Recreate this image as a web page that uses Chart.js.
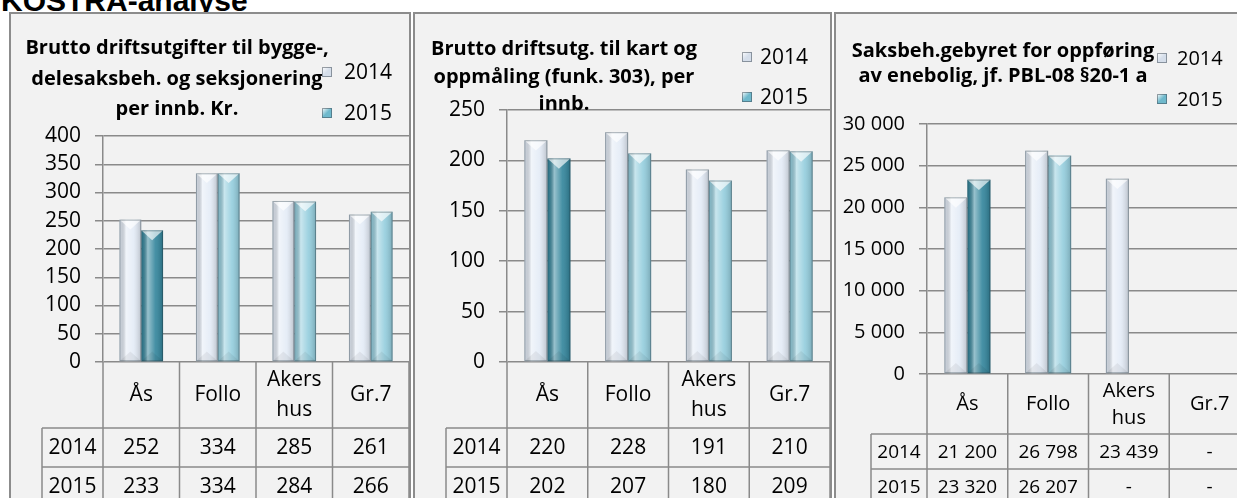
<!DOCTYPE html>
<html>
<head>
<meta charset="utf-8">
<script src="https://cdn.jsdelivr.net/npm/chart.js@4.4.1/dist/chart.umd.min.js"></script>
<style>
  html, body { margin: 0; padding: 0; background: #fff; overflow: hidden; width: 1237px; height: 498px; }
  .box { position: absolute; top: 12px; height: 560px; border: 2px solid #8c8c8c; background: #f2f2f2; box-sizing: border-box; }
  canvas { position: absolute; top: 13px; }
  #head { position: absolute; left: 1px; top: -14px; font: bold 30px 'Liberation Sans', Arial, sans-serif; line-height: 30px; white-space: nowrap; }
</style>
</head>
<body>
<div id="head">KOSTRA-analyse</div>
<div class="box" style="left:9px;width:402px"></div>
<div class="box" style="left:413px;width:419px"></div>
<div class="box" style="left:834px;width:500px"></div>
<canvas id="c1" width="400" height="500" style="left:10px"></canvas>
<canvas id="c2" width="418" height="500" style="left:414px"></canvas>
<canvas id="c3" width="420" height="500" style="left:835px"></canvas>
<script>
// data
const categories = ['Ås', 'Follo', ['Akers', 'hus'], 'Gr.7'];
const years = ['2014', '2015'];

const title1 = ['Brutto driftsutgifter til bygge-,', 'delesaksbeh. og seksjonering', 'per innb. Kr.'];
const bygg2014 = [252, 334, 285, 261];
const bygg2015 = [233, 334, 284, 266];
const byggTicks = [0, 50, 100, 150, 200, 250, 300, 350, 400];

const title2 = ['Brutto driftsutg. til kart og', 'oppmåling (funk. 303), per', 'innb.'];
const kart2014 = [220, 228, 191, 210];
const kart2015 = [202, 207, 180, 209];
const kartTicks = [0, 50, 100, 150, 200, 250];

const title3 = ['Saksbeh.gebyret for oppføring', 'av enebolig, jf. PBL-08 §20-1 a'];
const gebyr2014 = [21200, 26798, 23439, null];
const gebyr2015 = [23320, 26207, null, null];
const gebyrTicks = [0, 5000, 10000, 15000, 20000, 25000, 30000];

const LINE = '#8a8a8a';
const C2014 = '#e3ebf6';
const C2015 = '#93cddd';
const C2015_AS = '#31849b'; // Ås is highlighted in the 2015 series

Chart.defaults.font.family = "'Open Sans', sans-serif";
Chart.defaults.color = '#000';

function fmt(v) {
    if (v == null) return '-';
    return String(v).replace(/\B(?=(\d{3})+(?!\d))/g, ' ');
}

// 3D-ish bevel on top of the flat bars
const bevel = {
    id: 'bevel',
    afterDatasetsDraw(chart) {
        const ctx = chart.ctx;
        chart.data.datasets.forEach((ds, di) => {
            chart.getDatasetMeta(di).data.forEach((bar, i) => {
                if (ds.data[i] == null) return;
                const {x, y, base, width} = bar.getProps(['x', 'y', 'base', 'width'], true);
                const l = x - width / 2, r = x + width / 2;
                const g = ctx.createLinearGradient(l, 0, r, 0);
                g.addColorStop(0, 'rgba(0,0,0,0.06)');
                g.addColorStop(0.3, 'rgba(255,255,255,0.5)');
                g.addColorStop(0.65, 'rgba(255,255,255,0.1)');
                g.addColorStop(1, 'rgba(0,0,0,0.18)');
                ctx.save();
                ctx.fillStyle = g;
                ctx.fillRect(l, y, width, base - y);
                const d = width * 0.45;
                ctx.beginPath();
                ctx.moveTo(l, y); ctx.lineTo(r, y); ctx.lineTo(x, y + d); ctx.closePath();
                ctx.fillStyle = 'rgba(255,255,255,0.65)';
                ctx.fill();
                ctx.beginPath();
                ctx.moveTo(l, base); ctx.lineTo(r, base); ctx.lineTo(x, base - d); ctx.closePath();
                ctx.fillStyle = 'rgba(0,0,0,0.06)';
                ctx.fill();
                ctx.strokeStyle = 'rgba(40,60,70,0.4)';
                ctx.lineWidth = 1;
                ctx.strokeRect(l + 0.5, y + 0.5, width - 1, base - y - 1);
                ctx.restore();
            });
        });
    }
};

// title, legend and the data table under the plot
const kostra = {
    id: 'kostra',
    afterDraw(chart, args, o) {
        const {ctx, chartArea: a, scales: {x}} = chart;
        ctx.save();
        ctx.fillStyle = '#000';
        ctx.textAlign = 'center';
        ctx.textBaseline = 'alphabetic';
        ctx.font = `bold ${o.titleSize}px 'Open Sans'`;
        o.title.forEach((t, i) => ctx.fillText(t, o.titleX, o.titleY + i * o.titleGap));

        // legend
        ctx.textAlign = 'left';
        ctx.textBaseline = 'middle';
        ctx.font = `${o.legendSize}px 'Open Sans'`;
        chart.data.datasets.forEach((ds, i) => {
            const cy = o.legendY[i];
            const bx = o.legendX, by = cy - 5;
            const g = ctx.createLinearGradient(bx, by, bx + 10, by + 10);
            g.addColorStop(0, '#fff');
            g.addColorStop(0.5, ds.legendColor);
            g.addColorStop(1, ds.legendColor);
            ctx.fillStyle = g;
            ctx.fillRect(bx, by, 10, 10);
            ctx.strokeStyle = 'rgba(60,70,80,0.5)';
            ctx.lineWidth = 1;
            ctx.strokeRect(bx + 0.5, by + 0.5, 9, 9);
            ctx.fillStyle = '#000';
            ctx.fillText(ds.label, bx + 10 + o.legendGap, cy + 1);
        });

        // table grid
        const n = chart.data.labels.length;
        const cw = a.width / n;
        const y1 = a.bottom + o.catH;
        const rows = chart.data.datasets.length;
        ctx.strokeStyle = LINE;
        ctx.lineWidth = 1.5;
        ctx.beginPath();
        for (let i = 0; i <= n; i++) {
            const px = a.left + i * cw;
            ctx.moveTo(px, a.bottom);
            ctx.lineTo(px, chart.height);
        }
        ctx.moveTo(o.rowLeft, y1);
        ctx.lineTo(o.rowLeft, chart.height);
        for (let r = 0; r <= rows; r++) {
            const ry = y1 + r * o.rowH;
            ctx.moveTo(o.rowLeft, ry);
            ctx.lineTo(a.right, ry);
        }
        ctx.stroke();

        ctx.font = `${o.tableSize}px 'Open Sans'`;
        ctx.textAlign = 'center';
        ctx.textBaseline = 'middle';
        ctx.fillStyle = '#000';
        chart.data.datasets.forEach((ds, r) => {
            const cy = y1 + r * o.rowH + o.rowH / 2 + 1;
            ctx.fillText(ds.label, (o.rowLeft + a.left) / 2, cy);
            ds.data.forEach((v, i) => ctx.fillText(fmt(v), x.getPixelForValue(i), cy));
        });
        ctx.restore();
    }
};

function makeChart(id, s) {
    const ticks = s.ticks;
    const canvas = document.getElementById(id);
    return new Chart(canvas, {
        type: 'bar',
        data: {
            labels: categories,
            datasets: [{
                label: years[0],
                data: s.v2014,
                backgroundColor: C2014,
                legendColor: '#d5deea',
                borderWidth: 0,
                categoryPercentage: 0.57,
                barPercentage: 1.0
            }, {
                label: years[1],
                data: s.v2015,
                backgroundColor: s.v2015.map((v, i) => i === 0 ? C2015_AS : C2015),
                legendColor: '#6fb9cc',
                borderWidth: 0,
                categoryPercentage: 0.57,
                barPercentage: 1.0
            }]
        },
        options: {
            responsive: false,
            animation: false,
            layout: { padding: { top: s.top, right: s.right, left: 0, bottom: 0 } },
            scales: {
                x: {
                    grid: { display: false, drawTicks: false },
                    border: { display: false },
                    ticks: {
                        padding: s.labelPad,
                        crossAlign: 'center',
                        autoSkip: false,
                        maxRotation: 0,
                        color: '#000',
                        font: { size: s.font, lineHeight: s.lh }
                    },
                    afterFit(scale) { scale.height = canvas.height - s.bottom; }
                },
                y: {
                    min: ticks[0],
                    max: ticks[ticks.length - 1],
                    grid: { color: LINE, lineWidth: 1.5, tickLength: 8 },
                    border: { display: true, color: LINE, width: 1.5 },
                    ticks: {
                        stepSize: ticks[1] - ticks[0],
                        padding: 14,
                        color: '#000',
                        font: { size: s.font },
                        callback: v => fmt(v)
                    },
                    afterFit(scale) { scale.width = s.left; }
                }
            },
            plugins: {
                legend: { display: false },
                tooltip: { enabled: false },
                kostra: s.deco
            }
        },
        plugins: [bevel, kostra]
    });
}

makeChart('c1', {
    v2014: bygg2014, v2015: bygg2015, ticks: byggTicks,
    left: 93, top: 123, right: 1, bottom: 349, font: 21, lh: 1.43, labelPad: 18,
    deco: { title: title1, titleX: 167, titleY: 41, titleGap: 30.5, titleSize: 20,
            legendX: 312, legendY: [59, 100], legendGap: 12, legendSize: 21,
            catH: 66, rowH: 39, rowLeft: 32, tableSize: 21 }
});

makeChart('c2', {
    v2014: kart2014, v2015: kart2015, ticks: kartTicks,
    left: 93, top: 97, right: 2, bottom: 349, font: 21, lh: 1.43, labelPad: 18,
    deco: { title: title2, titleX: 150, titleY: 42, titleGap: 27.5, titleSize: 20,
            legendX: 328, legendY: [44, 84], legendGap: 8, legendSize: 21,
            catH: 66, rowH: 39, rowLeft: 32, tableSize: 21 }
});

makeChart('c3', {
    v2014: gebyr2014, v2015: gebyr2015, ticks: gebyrTicks,
    left: 92, top: 111, right: 5, bottom: 361, font: 20, lh: 1.35, labelPad: 17,
    deco: { title: title3, titleX: 168, titleY: 44, titleGap: 25, titleSize: 20,
            legendX: 322, legendY: [45, 86], legendGap: 10, legendSize: 20,
            catH: 60, rowH: 35, rowLeft: 36, tableSize: 19 }
});
</script>
</body>
</html>
